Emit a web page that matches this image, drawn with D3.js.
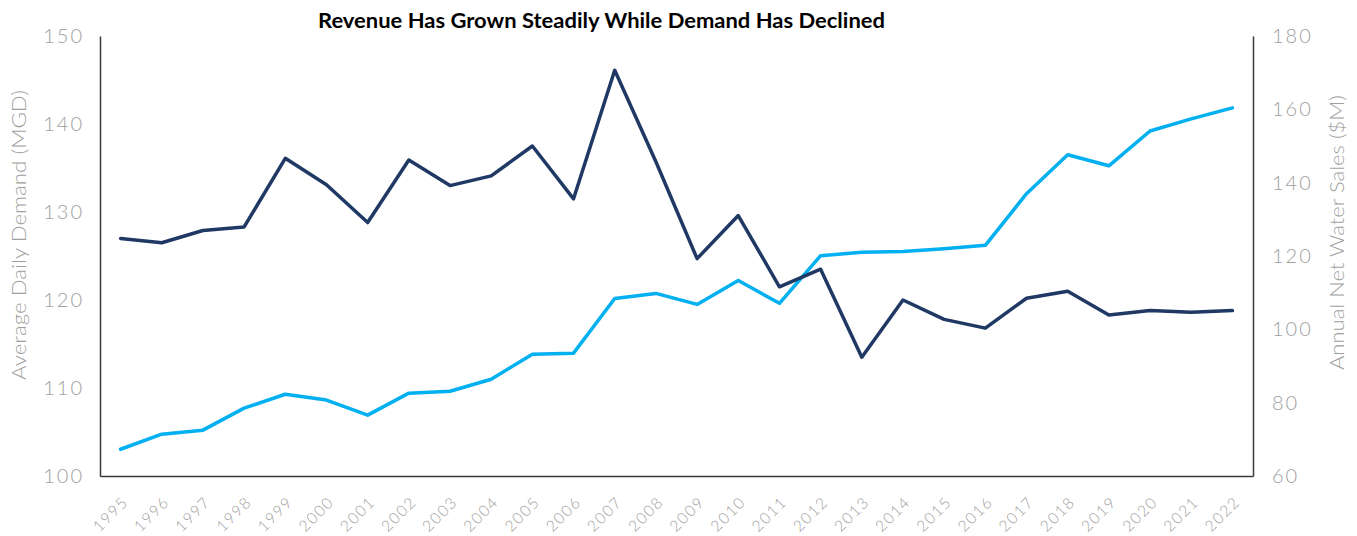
<!DOCTYPE html>
<html><head><meta charset="utf-8">
<script src="https://cdn.jsdelivr.net/npm/d3@7"></script>
<style>body{margin:0;background:#fff}svg{display:block}</style>
</head><body>
<svg id="c" width="1357" height="536"></svg>
<script>
const years = ["1995","1996","1997","1998","1999","2000","2001","2002","2003","2004","2005","2006","2007","2008","2009","2010","2011","2012","2013","2014","2015","2016","2017","2018","2019","2020","2021","2022"];
const demand = [127.0,126.5,127.9,128.3,136.1,133.1,128.8,135.9,133.0,134.1,137.5,131.5,146.1,135.7,124.7,129.6,121.5,123.5,113.5,120.0,117.8,116.8,120.2,121.0,118.3,118.8,118.6,118.8];
const revenue = [67.3,71.4,72.5,78.5,82.3,80.7,76.6,82.6,83.1,86.4,93.2,93.5,108.4,109.8,106.8,113.3,107.1,120.1,121.0,121.2,122.0,122.9,137.0,147.6,144.6,154.1,157.4,160.4];
const leftTicks = [100,110,120,130,140,150];
const rightTicks = [60,80,100,120,140,160,180];
const title = "Revenue Has Grown Steadily While Demand Has Declined";
const leftTitle = "Average Daily Demand (MGD)";
const rightTitle = "Annual Net Water Sales ($M)";

const svg = d3.select("#c");
const L = 100, R = 1253, T = 36, B = 476;
const x = d3.scalePoint().domain(years).range([L, R]).padding(0.5);
const yL = d3.scaleLinear().domain([100,150]).range([B, T]);
const yR = d3.scaleLinear().domain([60,180]).range([B, T]);
const font = "Lato, 'Open Sans', sans-serif";
const gray = "#a0a0a0";

// axes
const gL = svg.append("g").attr("transform",`translate(${L},0)`)
  .call(d3.axisLeft(yL).tickValues(leftTicks).tickSize(0).tickPadding(16));
const gR = svg.append("g").attr("transform",`translate(${R},0)`)
  .call(d3.axisRight(yR).tickValues(rightTicks).tickSize(0).tickPadding(19));
const gX = svg.append("g").attr("transform",`translate(0,${B})`)
  .call(d3.axisBottom(x).tickSize(0).tickPadding(0));
[gL,gR,gX].forEach(g=>{
  g.select(".domain").attr("stroke","#3a3a3a").attr("stroke-width",1.5);
  g.selectAll("text").attr("fill",gray).style("font-family",font).style("font-weight",300);
});
gL.selectAll("text").style("font-size","20px").style("letter-spacing","2px");
gR.selectAll("text").style("font-size","20px").style("letter-spacing","2px");
gX.selectAll("text").style("font-size","15.5px").style("letter-spacing","1.5px")
  .attr("text-anchor","end").attr("dy","0")
  .attr("transform","translate(8,27) rotate(-45)");

// lines
const line = s => d3.line().x((d,i)=>x(years[i])).y(d=>s(d));
svg.append("path").datum(revenue).attr("d", line(yR)).attr("fill","none")
  .attr("stroke","#00b0f0").attr("stroke-width",3.5).attr("stroke-linejoin","round").attr("stroke-linecap","round");
svg.append("path").datum(demand).attr("d", line(yL)).attr("fill","none")
  .attr("stroke","#1f3864").attr("stroke-width",3.5).attr("stroke-linejoin","round").attr("stroke-linecap","round");

// titles
svg.append("text").attr("x",318).attr("y",28)
  .attr("textLength",567).attr("lengthAdjust","spacingAndGlyphs")
  .style("font-family","Lato, 'Liberation Sans', sans-serif").style("font-weight","bold").style("font-size","20px")
  .attr("fill","#000").text(title);
svg.append("text").attr("transform","translate(26,380) rotate(-90)")
  .attr("textLength",290).attr("lengthAdjust","spacingAndGlyphs")
  .style("font-family",font).style("font-weight",300).style("font-size","20px").attr("fill",gray).text(leftTitle);
svg.append("text").attr("transform","translate(1344,370) rotate(-90)")
  .attr("textLength",275).attr("lengthAdjust","spacingAndGlyphs")
  .style("font-family",font).style("font-weight",300).style("font-size","20px").attr("fill",gray).text(rightTitle);
</script>
</body></html>
